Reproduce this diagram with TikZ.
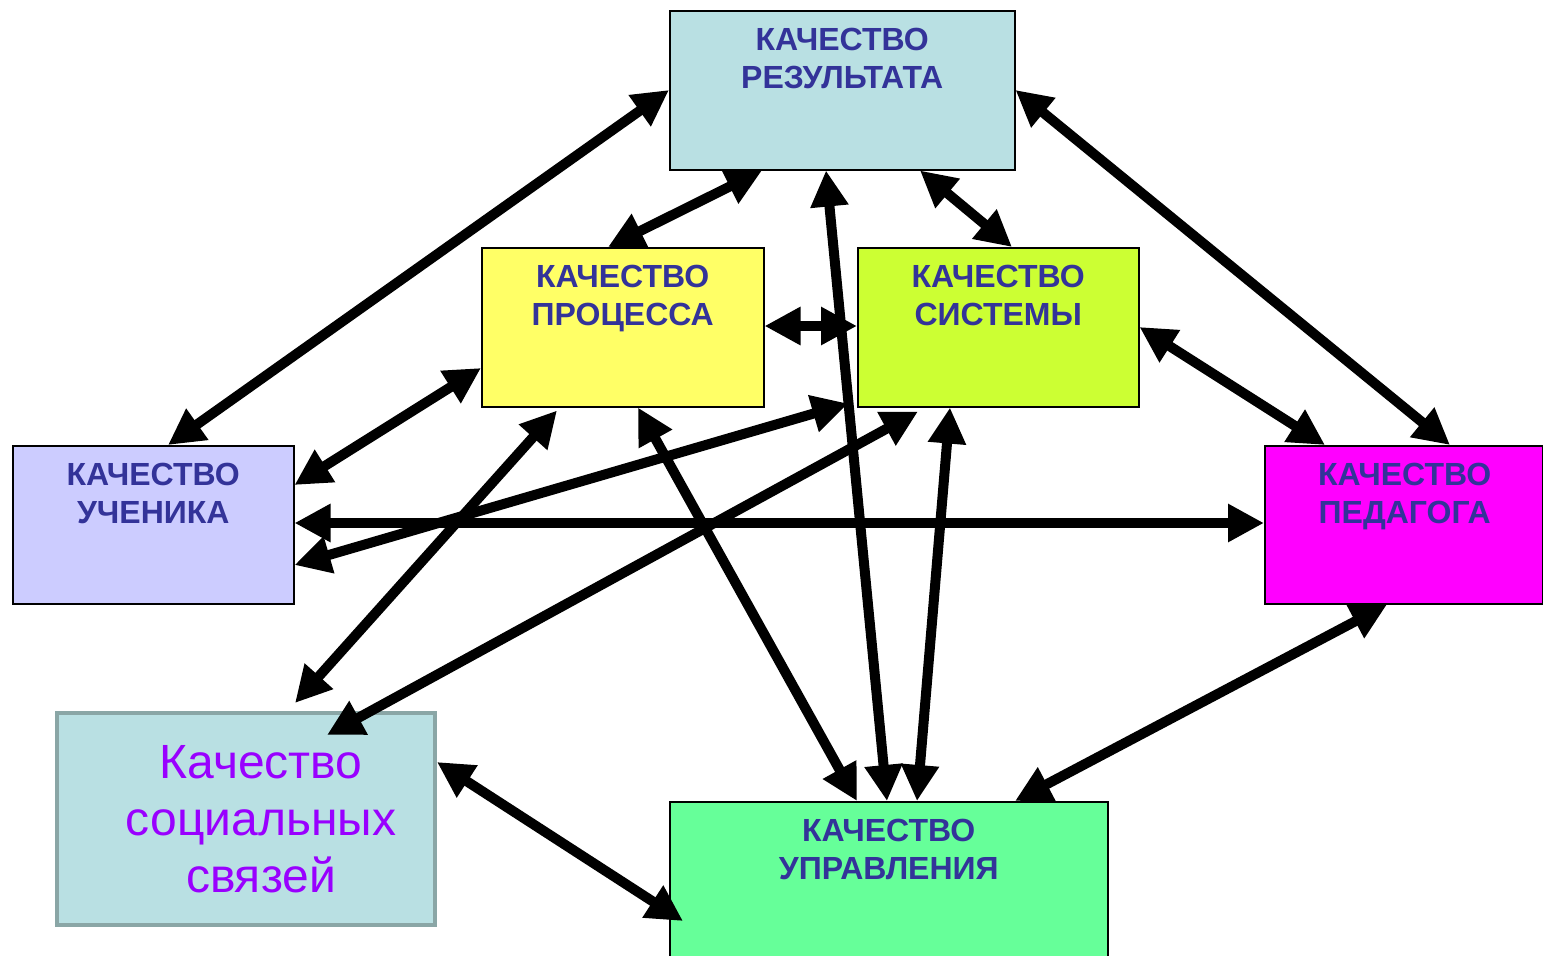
\documentclass[tikz,border=0pt]{standalone}
\usepackage{fontspec}
\setmainfont{Liberation Sans}
\usetikzlibrary{arrows.meta}
\definecolor{txtblue}{HTML}{333399}
\definecolor{rescol}{HTML}{B9E0E3}
\definecolor{proccol}{HTML}{FFFF66}
\definecolor{syscol}{HTML}{CCFF33}
\definecolor{uchcol}{HTML}{CCCCFF}
\definecolor{pedcol}{HTML}{FF00FF}
\definecolor{uprcol}{HTML}{66FF99}
\definecolor{socborder}{HTML}{8AA6A6}
\definecolor{soctext}{HTML}{9900FF}
\begin{document}
\begin{tikzpicture}[x=1pt,y=-1pt,
  qbox/.style={draw=black,line width=1.5pt,inner sep=0pt,anchor=north west},
  qlabel/.style={anchor=north,inner sep=0pt,align=center,text=txtblue,
    font=\fontsize{32}{38}\selectfont\bfseries},
  biarrow/.style={line width=10pt,{Triangle[length=36pt,width=36pt]}-{Triangle[length=36pt,width=36pt]}}]
\useasboundingbox (0,0) rectangle (1543,956);
% boxes
\node[qbox,fill=rescol,minimum width=345pt,minimum height=159pt] (res) at (669,10) {};
\node[qbox,fill=proccol,minimum width=282pt,minimum height=159pt] (proc) at (481,247) {};
\node[qbox,fill=syscol,minimum width=281pt,minimum height=159pt] (sys) at (857,247) {};
\node[qbox,fill=uchcol,minimum width=281pt,minimum height=158pt] (uch) at (12,445) {};
\node[qbox,fill=pedcol,minimum width=278pt,minimum height=158pt] (ped) at (1264,445) {};
\node[qbox,fill=uprcol,minimum width=438pt,minimum height=170pt] (upr) at (669,801) {};
\node[qbox,draw=socborder,line width=4pt,fill=rescol,minimum width=378pt,minimum height=212pt] (soc) at (55,711) {};
% arrows
\draw[biarrow] ([yshift=-80pt]res.north west) -- ([xshift=156pt]uch.north west);
\draw[biarrow] ([xshift=93pt]res.south west) -- ([xshift=127pt]proc.north west);
\draw[biarrow] ([xshift=157pt]res.south west) -- ([xshift=218pt]upr.north west);
\draw[biarrow] ([xshift=251pt]res.south west) -- ([xshift=155pt]sys.north west);
\draw[biarrow] ([yshift=-80pt]res.north east) -- ([xshift=186pt]ped.north west);
\draw[biarrow] ([yshift=-79pt]proc.north east) -- ([yshift=-79pt]sys.north west);
\draw[biarrow] ([yshift=-121pt]proc.north west) -- ([yshift=-40pt]uch.north east);
\draw[biarrow] ([xshift=76pt,yshift=-3pt]proc.south west) -- ([xshift=240pt,yshift=8pt]soc.north west);
\draw[biarrow] ([xshift=157pt]proc.south west) -- ([xshift=188pt]upr.north west);
\draw[biarrow] ([xshift=-9pt,yshift=4pt]sys.south west) -- ([yshift=-120pt]uch.north east);
\draw[biarrow] ([xshift=61pt,yshift=-4pt]sys.south west) -- ([xshift=272pt,yshift=-24pt]soc.north west);
\draw[biarrow] ([xshift=93pt]sys.south west) -- ([xshift=248pt]upr.north west);
\draw[biarrow] ([yshift=-80pt]sys.north east) -- ([xshift=61pt]ped.north west);
\draw[biarrow] ([yshift=-78pt]uch.north east) -- ([yshift=-78pt]ped.north west);
\draw[biarrow] ([xshift=123pt]ped.south west) -- ([xshift=346pt]upr.north west);
\draw[biarrow] ([yshift=-51pt]soc.north east) -- ([xshift=14pt,yshift=-120pt]upr.north west);
% labels
\node[qlabel] (resl) at ([yshift=-18pt]res.north) {КАЧЕСТВО\\РЕЗУЛЬТАТА};
\node[qlabel] (procl) at ([yshift=-18pt]proc.north) {КАЧЕСТВО\\ПРОЦЕССА};
\node[qlabel] (sysl) at ([yshift=-18pt]sys.north) {КАЧЕСТВО\\СИСТЕМЫ};
\node[qlabel] (uchl) at ([yshift=-18pt]uch.north) {КАЧЕСТВО\\УЧЕНИКА};
\node[qlabel] (pedl) at ([xshift=1pt,yshift=-18pt]ped.north) {КАЧЕСТВО\\ПЕДАГОГА};
\node[qlabel] (uprl) at ([yshift=-18pt]upr.north) {КАЧЕСТВО\\УПРАВЛЕНИЯ};
\node[anchor=north,inner sep=0pt,align=center,text=soctext,
  font=\fontsize{48}{57}\selectfont] (socl) at ([xshift=15pt,yshift=-34pt]soc.north)
  {Качество\\социальных\\связей};
\end{tikzpicture}
\end{document}
